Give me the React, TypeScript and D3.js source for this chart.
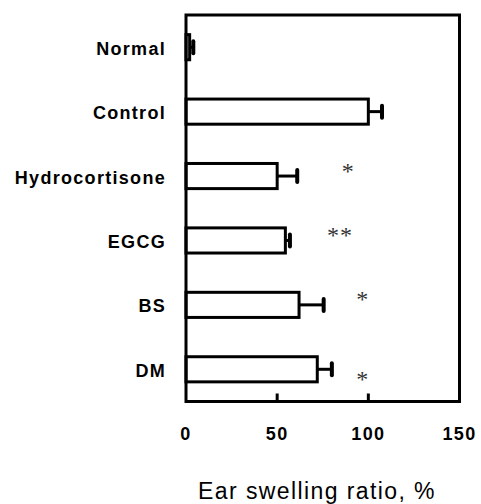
import React, { useEffect, useRef } from 'react';
import * as d3 from 'd3';

const groups = ['Normal', 'Control', 'Hydrocortisone', 'EGCG', 'BS', 'DM'];
const means = [2, 100, 50, 54.5, 62, 72];
const errors = [2, 7.5, 11, 2.5, 13.5, 8];
// significance marks: label, x position in data units, above (-1) or below (+1) the bar centre
const sigLabels = ['', '', '*', '**', '*', '*'];
const sigX = [0, 0, 89, 84.5, 97, 97];
const sigSide = [0, 0, -1, -1, -1, 1];
const xTicks = [0, 50, 100, 150];

const App = () => {
  const svgRef = useRef<SVGSVGElement>(null);

  useEffect(() => {
    const svg = d3.select(svgRef.current);
    svg.selectAll('*').remove();

    const width = 481;
    const height = 504;
    const margin = { top: 15, right: 21.5, bottom: 102.5, left: 186 };

    const x = d3.scaleLinear()
      .domain([0, 150])
      .range([margin.left, width - margin.right]);

    const y = d3.scaleBand()
      .domain(groups)
      .range([margin.top, height - margin.bottom])
      .paddingInner(0.61)
      .paddingOuter(0.305);

    const data = groups.map((g, i) => ({ g, m: means[i], e: errors[i], s: sigLabels[i], sx: sigX[i], side: sigSide[i] }));
    const bw = y.bandwidth();

    // error bars
    const eb = svg.append('g');
    eb.selectAll('line.err')
      .data(data)
      .join('line')
      .attr('x1', d => x(d.m))
      .attr('x2', d => x(d.m + d.e))
      .attr('y1', d => y(d.g)! + bw / 2)
      .attr('y2', d => y(d.g)! + bw / 2)
      .attr('stroke', '#000')
      .attr('stroke-width', 3);
    eb.selectAll('line.cap')
      .data(data)
      .join('line')
      .attr('x1', d => x(d.m + d.e))
      .attr('x2', d => x(d.m + d.e))
      .attr('y1', d => y(d.g)! + bw / 2 - 6)
      .attr('y2', d => y(d.g)! + bw / 2 + 6)
      .attr('stroke', '#000')
      .attr('stroke-width', 4)
      .attr('stroke-linecap', 'round');

    // bars
    svg.append('g')
      .selectAll('rect')
      .data(data)
      .join('rect')
      .attr('x', x(0))
      .attr('y', d => y(d.g)!)
      .attr('width', d => x(d.m) - x(0))
      .attr('height', bw)
      .attr('fill', '#fff')
      .attr('stroke', '#000')
      .attr('stroke-width', 3);

    // frame
    svg.append('rect')
      .attr('x', margin.left)
      .attr('y', margin.top)
      .attr('width', width - margin.left - margin.right)
      .attr('height', height - margin.top - margin.bottom)
      .attr('fill', 'none')
      .attr('stroke', '#000')
      .attr('stroke-width', 3);

    // inner ticks on the bottom axis
    const yb = height - margin.bottom;
    svg.append('g')
      .selectAll('line')
      .data(xTicks.filter(t => t > 0 && t < 150))
      .join('line')
      .attr('x1', d => x(d))
      .attr('x2', d => x(d))
      .attr('y1', yb)
      .attr('y2', yb - 8)
      .attr('stroke', '#000')
      .attr('stroke-width', 3);

    // tick labels
    svg.append('g')
      .selectAll('text')
      .data(xTicks)
      .join('text')
      .attr('x', d => x(d))
      .attr('y', 440)
      .attr('text-anchor', 'middle')
      .attr('font-family', 'Liberation Sans, Arial, sans-serif')
      .attr('font-weight', 'bold')
      .attr('font-size', 18)
      .attr('letter-spacing', 1.3)
      .text(d => d);

    // category labels
    svg.append('g')
      .selectAll('text')
      .data(data)
      .join('text')
      .attr('x', 166)
      .attr('y', d => y(d.g)! + bw / 2 + 7.5)
      .attr('text-anchor', 'end')
      .attr('font-family', 'Liberation Sans, Arial, sans-serif')
      .attr('font-weight', 'bold')
      .attr('font-size', 18)
      .attr('letter-spacing', 1.3)
      .text(d => d.g);

    // significance marks
    svg.append('g')
      .selectAll('text')
      .data(data.filter(d => d.s))
      .join('text')
      .attr('x', d => x(d.sx))
      .attr('y', d => y(d.g)! + bw / 2 + d.side * 7.5 + 10)
      .attr('text-anchor', 'middle')
      .attr('font-family', 'Liberation Serif, serif')
      .attr('font-size', 24)
      .attr('letter-spacing', 1)
      .attr('fill', '#333')
      .text(d => d.s);

    // axis title
    svg.append('text')
      .attr('x', 317)
      .attr('y', 499)
      .attr('text-anchor', 'middle')
      .attr('font-family', 'Liberation Sans, Arial, sans-serif')
      .attr('font-size', 23)
      .attr('letter-spacing', 1.4)
      .text('Ear swelling ratio, %');
  }, []);

  return (
    <div style={{ position: 'absolute', left: 0, top: 0 }}>
      <svg ref={svgRef} width={481} height={504} style={{ display: 'block', background: '#fff' }}></svg>
    </div>
  );
};

export default App;
